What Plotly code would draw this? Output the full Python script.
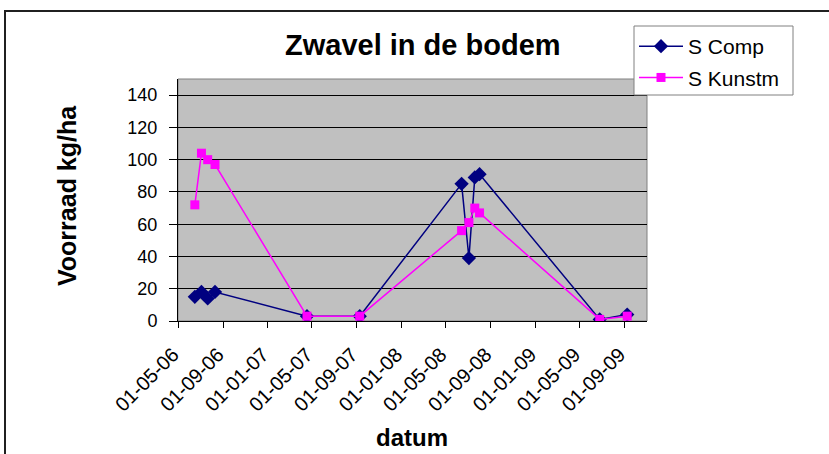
import plotly.graph_objects as go

# Measurement dates (shared by both series)
dates = [
    "2006-06-16", "2006-07-04", "2006-07-21", "2006-08-10",
    "2007-04-18", "2007-09-09",
    "2008-06-13", "2008-07-03", "2008-07-19", "2008-08-01",
    "2009-06-25", "2009-09-08",
]

# Sulphur stock in the soil (kg/ha)
s_comp = [15, 18, 14, 18, 3, 3, 85, 39, 89, 91, 1, 4]
s_kunstm = [72, 104, 100, 97, 3, 3, 56, 61, 70, 67, 1, 3]

# Date-axis ticks every four months
tick_dates = [
    "2006-05-01", "2006-09-01", "2007-01-01", "2007-05-01", "2007-09-01",
    "2008-01-01", "2008-05-01", "2008-09-01", "2009-01-01", "2009-05-01",
    "2009-09-01",
]
tick_labels = [
    "01-05-06", "01-09-06", "01-01-07", "01-05-07", "01-09-07",
    "01-01-08", "01-05-08", "01-09-08", "01-01-09", "01-05-09",
    "01-09-09",
]
y_ticks = [0, 20, 40, 60, 80, 100, 120, 140]

W, H = 829, 454
L, R, T, B = 178, 647, 79, 321  # plot area in pixels
pw, ph = R - L, B - T


def px(x):
    return (x - L) / pw


def py(y):
    return (B - y) / ph


FONT = "Liberation Sans, Arial, sans-serif"

fig = go.Figure()
fig.add_trace(go.Scatter(
    x=dates, y=s_comp, name="S Comp", mode="lines+markers",
    line=dict(color="#000080", width=1.5),
    marker=dict(symbol="diamond", size=11, color="#000080"),
    legendgroup="a",
))
fig.add_trace(go.Scatter(
    x=dates, y=s_kunstm, name="S Kunstm", mode="lines+markers",
    line=dict(color="#ff00ff", width=1.5),
    marker=dict(symbol="square", size=9, color="#ff00ff"),
    legendgroup="b",
))

fig.update_layout(
    width=W, height=H,
    margin=dict(l=L, r=W - R, t=T, b=H - B),
    paper_bgcolor="white",
    plot_bgcolor="#c0c0c0",
    font=dict(family=FONT, size=18, color="black"),
    showlegend=True,
    legend=dict(
        x=px(634), y=py(26), xanchor="left", yanchor="top",
        bgcolor="rgba(0,0,0,0)", borderwidth=0,
        font=dict(size=21), tracegroupgap=1,
        itemwidth=44,
    ),
    xaxis=dict(
        type="date",
        range=["2006-05-01", "2009-11-01"],
        tickvals=tick_dates, ticktext=tick_labels,
        tickangle=-45,
        ticks="outside", ticklen=6, tickcolor="black",
        showline=True, linecolor="black", linewidth=1,
        showgrid=False, zeroline=False,
        tickfont=dict(size=20), ticklabelstandoff=7, ticklabelshift=-5,
    ),
    yaxis=dict(
        range=[0, 150], tickvals=y_ticks,
        ticks="outside", ticklen=8, tickcolor="black",
        showline=True, linecolor="black", linewidth=1,
        showgrid=True, gridcolor="black", gridwidth=1,
        zeroline=False,
        tickfont=dict(size=18), ticklabelstandoff=8,
    ),
    shapes=[
        # plot-area frame
        dict(type="rect", xref="paper", yref="paper", x0=0, x1=1, y0=0, y1=1,
             line=dict(color="#808080", width=1), layer="below"),
        # legend box
        dict(type="rect", xref="paper", yref="paper",
             x0=px(634), x1=px(793), y0=py(95), y1=py(26),
             fillcolor="white", line=dict(color="#808080", width=1),
             layer="above"),
        # chart-area frame
        dict(type="rect", xref="paper", yref="paper",
             x0=px(5), x1=px(840), y0=py(465), y1=py(11),
             line=dict(color="#202020", width=2)),
    ],
    annotations=[
        dict(text="<b>Zwavel in de bodem</b>", xref="paper", yref="paper",
             x=px(423), y=py(45), xanchor="center", yanchor="middle",
             showarrow=False, font=dict(size=29, family=FONT)),
        dict(text="<b>Voorraad kg/ha</b>", xref="paper", yref="paper",
             x=px(67), y=py(196), xanchor="center", yanchor="middle",
             showarrow=False, textangle=-90,
             font=dict(size=25, family=FONT)),
        dict(text="<b>datum</b>", xref="paper", yref="paper",
             x=px(412), y=py(437), xanchor="center", yanchor="middle",
             showarrow=False, font=dict(size=24, family=FONT)),
    ],
)

fig.write_html("out.html")
